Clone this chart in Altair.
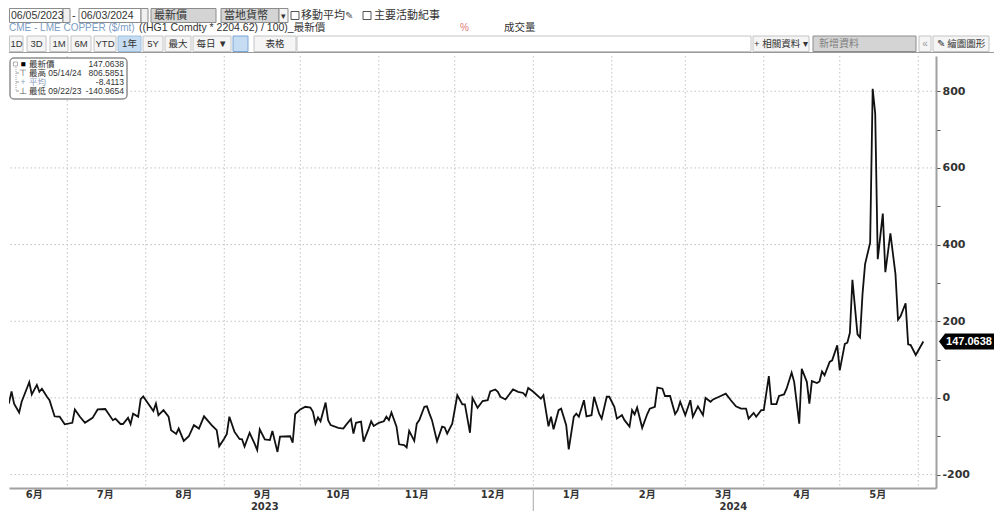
import altair as alt
import pandas as pd

# ---------------- data ----------------
dates = [
    "2023-06-05", "2023-06-06", "2023-06-08", "2023-06-09", "2023-06-10", "2023-06-12", "2023-06-13",
    "2023-06-15", "2023-06-16", "2023-06-17", "2023-06-19", "2023-06-20", "2023-06-21", "2023-06-23",
    "2023-06-24", "2023-06-26", "2023-06-27", "2023-06-28", "2023-06-30",
    "2023-07-03", "2023-07-04", "2023-07-06", "2023-07-08", "2023-07-11", "2023-07-13", "2023-07-16",
    "2023-07-19", "2023-07-20", "2023-07-22", "2023-07-23", "2023-07-25", "2023-07-26", "2023-07-27",
    "2023-07-29", "2023-07-30", "2023-07-31",
    "2023-08-02", "2023-08-04", "2023-08-05", "2023-08-06", "2023-08-08", "2023-08-10", "2023-08-11",
    "2023-08-13", "2023-08-14", "2023-08-16", "2023-08-18", "2023-08-20", "2023-08-22", "2023-08-24",
    "2023-08-27", "2023-08-29", "2023-08-30",
    "2023-09-01", "2023-09-02", "2023-09-03", "2023-09-05", "2023-09-07", "2023-09-08", "2023-09-09",
    "2023-09-11", "2023-09-13", "2023-09-14", "2023-09-15", "2023-09-17", "2023-09-19", "2023-09-20",
    "2023-09-21", "2023-09-22", "2023-09-23", "2023-09-27", "2023-09-28", "2023-09-29",
    "2023-10-01", "2023-10-03", "2023-10-05", "2023-10-06", "2023-10-07", "2023-10-08", "2023-10-09",
    "2023-10-11", "2023-10-12", "2023-10-13", "2023-10-16", "2023-10-18", "2023-10-19", "2023-10-21",
    "2023-10-22", "2023-10-23", "2023-10-25", "2023-10-26", "2023-10-28", "2023-10-29", "2023-10-30",
    "2023-11-01", "2023-11-03", "2023-11-04", "2023-11-05", "2023-11-06", "2023-11-08", "2023-11-09",
    "2023-11-11", "2023-11-12", "2023-11-13", "2023-11-15", "2023-11-16", "2023-11-17", "2023-11-19",
    "2023-11-20", "2023-11-21", "2023-11-22", "2023-11-24", "2023-11-26", "2023-11-27", "2023-11-28",
    "2023-11-30",
    "2023-12-02", "2023-12-04", "2023-12-05", "2023-12-07", "2023-12-08", "2023-12-10", "2023-12-12",
    "2023-12-14", "2023-12-15", "2023-12-17", "2023-12-18", "2023-12-19", "2023-12-21", "2023-12-24",
    "2023-12-26", "2023-12-28", "2023-12-29", "2023-12-30",
    "2024-01-01", "2024-01-04", "2024-01-05", "2024-01-07", "2024-01-08", "2024-01-09", "2024-01-11",
    "2024-01-12", "2024-01-14", "2024-01-15", "2024-01-17", "2024-01-18", "2024-01-19", "2024-01-21",
    "2024-01-22", "2024-01-24", "2024-01-25", "2024-01-27", "2024-01-28", "2024-01-30", "2024-01-31",
    "2024-02-02", "2024-02-03", "2024-02-05", "2024-02-06", "2024-02-08", "2024-02-09", "2024-02-10",
    "2024-02-11", "2024-02-13", "2024-02-15", "2024-02-16", "2024-02-18", "2024-02-19", "2024-02-21",
    "2024-02-22", "2024-02-24", "2024-02-26", "2024-02-27", "2024-02-28",
    "2024-03-01", "2024-03-03", "2024-03-04", "2024-03-06", "2024-03-08", "2024-03-09", "2024-03-11",
    "2024-03-12", "2024-03-15", "2024-03-17", "2024-03-19", "2024-03-21", "2024-03-23", "2024-03-25",
    "2024-03-26", "2024-03-28", "2024-03-29", "2024-03-31",
    "2024-04-01", "2024-04-03", "2024-04-04", "2024-04-06", "2024-04-07", "2024-04-09", "2024-04-10",
    "2024-04-12", "2024-04-13", "2024-04-15", "2024-04-16", "2024-04-18", "2024-04-19", "2024-04-20",
    "2024-04-22", "2024-04-23", "2024-04-24", "2024-04-25", "2024-04-27", "2024-04-28", "2024-04-30",
    "2024-05-01", "2024-05-03", "2024-05-04", "2024-05-05", "2024-05-06", "2024-05-08", "2024-05-09",
    "2024-05-10", "2024-05-11", "2024-05-13", "2024-05-14", "2024-05-15", "2024-05-16", "2024-05-18",
    "2024-05-19", "2024-05-21", "2024-05-23", "2024-05-24", "2024-05-25", "2024-05-27", "2024-05-28",
    "2024-05-29", "2024-05-31", "2024-06-03",
]
values = [
    -28, -30, -13, 17, -15, -38, -10,
    24, 41, 9, 34, 16, 24, 3,
    -6, -48, -49, -49, -69,
    -65, -30, -49, -65, -52, -30, -29,
    -58, -54, -68, -68, -52, -68, -41,
    -49, -3, 4,
    -15, -34, -15, -45, -32, -49, -84,
    -94, -80, -112, -100, -71, -80, -48,
    -71, -84, -126,
    -106, -94, -49, -88, -107, -108, -127,
    -91, -120, -136, -82, -108, -110, -86,
    -114, -140.9654, -101, -100, -117, -42,
    -30, -23, -25, -36, -67, -51, -61,
    -12, -58, -71, -78, -80, -71, -55,
    -93, -65, -62, -114, -80, -61, -73,
    -65, -61, -49, -58, -38, -75, -121,
    -123, -129, -86, -112, -67, -58, -23,
    -22, -41, -58, -113, -75, -77, -93,
    -67,
    7, -17, -17, -91, 0, -26, -8,
    -6, 17, 22, 16, 3, -4, 22,
    16, 13, 5, 26,
    16, -2, 7, -74, -49, -82, -32,
    -28, -71, -134, -49, -41, -49, -6,
    -48, -45, 3, -41, -54, 3, 3,
    -23, -54, -45, -58, -75, -32, -43,
    -25, -78, -42, -28, -23, 27, 24,
    5, 5, -42, -32, -10,
    -45, -6, -49, -22, -45, 0, -10,
    -4, 5, 11, -6, -22, -28, -28,
    -54, -39, -49, -32,
    -32, 57, -16, -16, 5, 9, 24,
    66, 42, -67, 76, 42, -15, 44,
    39, 43, 69, 59, 94, 98, 137,
    72, 141, 144, 170, 308, 166, 158,
    272, 349, 405, 806.5851, 742, 362, 481,
    328, 429, 323, 204, 213, 247, 140,
    138, 112, 147.0638,
]

grid_values = [-200, 0, 200, 400, 600, 800]
tick_values = [-200, -100, 0, 100, 200, 300, 400, 500, 600, 700, 800]
month_starts = ["2023-07-01", "2023-08-01", "2023-09-01", "2023-10-01", "2023-11-01", "2023-12-01",
                "2024-01-01", "2024-02-01", "2024-03-01", "2024-04-01", "2024-05-01", "2024-06-01"]
month_label_dates = ["2023-06-18", "2023-07-16", "2023-08-16", "2023-09-16", "2023-10-16", "2023-11-16",
                     "2023-12-16", "2024-01-16", "2024-02-15", "2024-03-16", "2024-04-16", "2024-05-16"]
month_labels = ["6月", "7月", "8月", "9月", "10月", "11月", "12月", "1月", "2月", "3月", "4月", "5月"]
year_label_dates = ["2023-09-17", "2024-03-20"]
year_labels = ["2023", "2024"]
year_break = ["2024-01-01"]

legend_icons = ["■", "⊤", "+", "⊥"]
legend_labels = ["最新價", "最高 05/14/24", "平均", "最低 09/22/23"]
legend_values = ["147.0638", "806.5851", "-8.4113", "-140.9654"]

# ---------------- toolbar (interface chrome) ----------------
header_boxes = [
    # x, x2, y, y2, fill, stroke
    (0.5, 54, 0.5, 14.5, "#ffffff", "#8c8c8c"),
    (54, 61, 0.5, 14.5, "#f0f0f0", "#8c8c8c"),
    (70, 132, 0.5, 14.5, "#ffffff", "#8c8c8c"),
    (132, 139, 0.5, 14.5, "#f0f0f0", "#8c8c8c"),
    (142, 207, 0.5, 14.5, "#d4d4d4", "#8c8c8c"),
    (212, 270, 0.5, 14.5, "#d4d4d4", "#8c8c8c"),
    (270, 279, 0.5, 14.5, "#f4f4f4", "#8c8c8c"),
    (282, 290, 3.5, 11.5, "#ffffff", "#555555"),
    (354, 362, 3.5, 11.5, "#ffffff", "#555555"),
    (0.5, 14, 28, 43.5, "#f5f5f5", "#c4c4c4"),
    (18, 37, 28, 43.5, "#f5f5f5", "#c4c4c4"),
    (41, 59, 28, 43.5, "#f5f5f5", "#c4c4c4"),
    (62, 82, 28, 43.5, "#f5f5f5", "#c4c4c4"),
    (85, 107, 28, 43.5, "#f5f5f5", "#c4c4c4"),
    (109, 132, 28, 43.5, "#c5dcf2", "#9dbfe0"),
    (134, 154, 28, 43.5, "#f5f5f5", "#c4c4c4"),
    (156, 182, 28, 43.5, "#f5f5f5", "#c4c4c4"),
    (184, 222, 28, 43.5, "#f5f5f5", "#c4c4c4"),
    (224, 239, 28, 43.5, "#c5dcf2", "#7aa7d6"),
    (245, 287, 28, 43.5, "#f5f5f5", "#c4c4c4"),
    (288, 742, 28, 43.5, "#ffffff", "#c4c4c4"),
    (744, 800, 28, 43.5, "#f5f5f5", "#c4c4c4"),
    (804, 907, 28, 43.5, "#d4d4d4", "#8c8c8c"),
    (910, 922, 28, 43.5, "#f5f5f5", "#c4c4c4"),
    (924, 980, 28, 43.5, "#f5f5f5", "#c4c4c4"),
]
header_left_texts = [
    # x, y, text, color, size
    (2, 7.5, "06/05/2023", "#333333", 10.5),
    (63, 7.5, "-", "#333333", 11),
    (72, 7.5, "06/03/2024", "#333333", 10.5),
    (145, 7.5, "最新價", "#333333", 11),
    (215, 7.5, "當地貨幣", "#333333", 11),
    (292, 7.5, "移動平均", "#333333", 11),
    (336, 7.5, "✎", "#555555", 10),
    (365, 7.5, "主要活動紀事", "#333333", 11),
    (0, 19.5, "CME - LME COPPER ($/mt)", "#7b9dc4", 10),
    (130, 19.5, "((HG1 Comdty * 2204.62) / 100)_最新價", "#333333", 10.5),
    (451, 19.5, "%", "#e07a7a", 10),
    (495, 19.5, "成交量", "#333333", 10.5),
    (810, 36, "新增資料", "#808080", 10),
]
header_center_texts = [
    (274.5, 7.5, "▾", "#333333", 9),
    (7.5, 36, "1D", "#333333", 9.5),
    (27.5, 36, "3D", "#333333", 9.5),
    (50, 36, "1M", "#333333", 9.5),
    (72, 36, "6M", "#333333", 9.5),
    (96, 36, "YTD", "#333333", 9.5),
    (120.5, 36, "1年", "#333333", 9.5),
    (144, 36, "5Y", "#333333", 9.5),
    (169, 36, "最大", "#333333", 9.5),
    (203, 36, "每日 ▼", "#333333", 9.5),
    (266, 36, "表格", "#333333", 9.5),
    (772, 36, "+ 相關資料 ▾", "#333333", 9.5),
    (916, 36, "«", "#999999", 10),
    (952, 36, "✎ 繪圖圖形", "#333333", 9.5),
]

FONT = "Liberation Sans, Noto Sans CJK TC"
W, H = 927, 432

hb = pd.DataFrame(header_boxes, columns=["x", "x2", "y", "y2", "fill", "stroke"])
hl = pd.DataFrame(header_left_texts, columns=["x", "y", "t", "c", "s"])
hc = pd.DataFrame(header_center_texts, columns=["x", "y", "t", "c", "s"])


def px(field):
    return alt.X(field, scale=None, axis=None)


def py(field):
    return alt.Y(field, scale=None, axis=None)


hdr_rects = alt.Chart(hb).mark_rect(strokeWidth=1).encode(
    x=px("x:Q"), x2="x2:Q", y=py("y:Q"), y2="y2:Q",
    fill=alt.Fill("fill:N", scale=None), stroke=alt.Stroke("stroke:N", scale=None),
)
hdr_left = alt.Chart(hl).mark_text(align="left", baseline="middle", font=FONT).encode(
    x=px("x:Q"), y=py("y:Q"), text="t:N",
    color=alt.Color("c:N", scale=None), size=alt.Size("s:Q", scale=None),
)
hdr_center = alt.Chart(hc).mark_text(align="center", baseline="middle", font=FONT).encode(
    x=px("x:Q"), y=py("y:Q"), text="t:N",
    color=alt.Color("c:N", scale=None), size=alt.Size("s:Q", scale=None),
)
one = pd.DataFrame({"k": [0]})
hdr_line = alt.Chart(one).mark_rule(color="#9a9a9a", strokeWidth=1).encode(
    x=alt.value(0), x2=alt.value(985), y=alt.value(44.5)
)
header = alt.layer(hdr_rects, hdr_line, hdr_left, hdr_center).properties(width=985, height=45)

# ---------------- main chart ----------------
x_scale = alt.Scale(domain=[alt.DateTime(year=2023, month=6, date=8),
                            alt.DateTime(year=2024, month=6, date=8)])
y_scale = alt.Scale(domain=[-235, 892], nice=False, zero=False)

df = pd.DataFrame({"date": pd.to_datetime(dates), "value": values})
last_df = df.tail(1)

label_expr = ("datum.value % 200 === 0 ? (datum.value < 0 ? '-' + abs(datum.value) : '' + datum.value) : ''")

# the same axis spec is given to every layer that uses a scale, so that merging keeps it
y_axis = alt.Axis(title=None, orient="right", values=tick_values, labelExpr=label_expr,
                  grid=False, domainColor="#a0a0a0", domainWidth=2,
                  tickColor="#555555", tickSize=4, tickWidth=1, labelPadding=2,
                  labelFont="DejaVu Sans", labelFontSize=11, labelFontWeight="bold",
                  labelColor="#333333")
x_axis = alt.Axis(title=None, labels=False, ticks=False, grid=False,
                  domainColor="#a0a0a0", domainWidth=2)


def xt(field):
    return alt.X(field, scale=x_scale, axis=x_axis)


def yq(field):
    return alt.Y(field, scale=y_scale, axis=y_axis)


hgrid = alt.Chart(pd.DataFrame({"v": grid_values})).mark_rule(
    color="#c2c2c2", strokeDash=[1.5, 2.5], strokeWidth=1
).encode(y=yq("v:Q"))

vgrid = alt.Chart(pd.DataFrame({"d": pd.to_datetime(month_starts)})).mark_rule(
    color="#c2c2c2", strokeDash=[1.5, 2.5], strokeWidth=1
).encode(x=xt("d:T"))

line = alt.Chart(df).mark_line(color="#111111", strokeWidth=1.8, clip=True).encode(
    x=xt("date:T"), y=yq("value:Q"),
)

# legend box
box = alt.Chart(one).mark_rect(fill="white", stroke="#8f8f8f", strokeWidth=1.5, cornerRadius=4).encode(
    x=alt.value(1), x2=alt.value(118), y=alt.value(2), y2=alt.value(43)
)
row_y = [8, 17, 26, 35]
legend_layers = [box]
legend_layers.append(
    alt.Chart(one).mark_rule(color="#a0a0a0", strokeWidth=1, strokeDash=[1, 1]).encode(
        x=alt.value(7), y=alt.value(9), y2=alt.value(35))
)
for ry in row_y[1:]:
    legend_layers.append(
        alt.Chart(one).mark_rule(color="#a0a0a0", strokeWidth=1).encode(
            x=alt.value(7), x2=alt.value(10), y=alt.value(ry))
    )
legend_layers.append(
    alt.Chart(one).mark_rect(fill="white", stroke="#a0a0a0", strokeWidth=0.8).encode(
        x=alt.value(4.5), x2=alt.value(8.5), y=alt.value(6), y2=alt.value(10))
)
icon_colors = ["#000000", "#555555", "#8a9bbd", "#555555"]
label_colors = ["#333333", "#333333", "#8a9bbd", "#333333"]
for i in range(4):
    legend_layers.append(
        alt.Chart(one).mark_text(align="center", baseline="middle", font=FONT, fontSize=8.5,
                                 color=icon_colors[i]).encode(
            x=alt.value(14), y=alt.value(row_y[i]), text=alt.value(legend_icons[i]))
    )
    legend_layers.append(
        alt.Chart(one).mark_text(align="left", baseline="middle", font=FONT, fontSize=8.5,
                                 color=label_colors[i]).encode(
            x=alt.value(20), y=alt.value(row_y[i]), text=alt.value(legend_labels[i]))
    )
    legend_layers.append(
        alt.Chart(one).mark_text(align="right", baseline="middle", font=FONT, fontSize=8.5,
                                 color="#333333").encode(
            x=alt.value(115), y=alt.value(row_y[i]), text=alt.value(legend_values[i]))
    )

# last value tag
tag = alt.Chart(last_df).mark_point(
    shape="M-1,0L-0.78,-0.29L1,-0.29L1,0.29L-0.78,0.29Z",
    filled=True, color="#000000", opacity=1, size=3025,
).encode(x=alt.value(957.5), y=yq("value:Q"))
tag_text = alt.Chart(last_df).mark_text(
    color="white", font="Liberation Sans", fontWeight="bold", fontSize=11,
    align="center", baseline="middle",
).encode(x=alt.value(960), y=yq("value:Q"), text=alt.Text("value:Q", format=".4f"))

# month / year labels
months = alt.Chart(pd.DataFrame({"d": pd.to_datetime(month_label_dates), "t": month_labels})).mark_text(
    font="DejaVu Sans, Noto Sans CJK TC", fontSize=10, fontWeight="bold", color="#333333",
    baseline="middle", align="center",
).encode(x=xt("d:T"), y=alt.value(H + 7), text="t:N")
years = alt.Chart(pd.DataFrame({"d": pd.to_datetime(year_label_dates), "t": year_labels})).mark_text(
    font="DejaVu Sans", fontSize=10, fontWeight="bold", color="#333333",
    baseline="middle", align="center",
).encode(x=xt("d:T"), y=alt.value(H + 19), text="t:N")
sep = alt.Chart(pd.DataFrame({"d": pd.to_datetime(year_break)})).mark_rule(
    color="#a8a8a8", strokeWidth=1
).encode(x=xt("d:T"), y=alt.value(H + 2), y2=alt.value(H + 23))

main = alt.layer(hgrid, vgrid, line, *legend_layers, tag, tag_text, months, years, sep).properties(
    width=W, height=H
)

chart = alt.vconcat(header, main, spacing=2).properties(padding=0).configure_view(strokeWidth=0)

chart.save("out.html", embed_options={"renderer": "svg", "actions": False})
